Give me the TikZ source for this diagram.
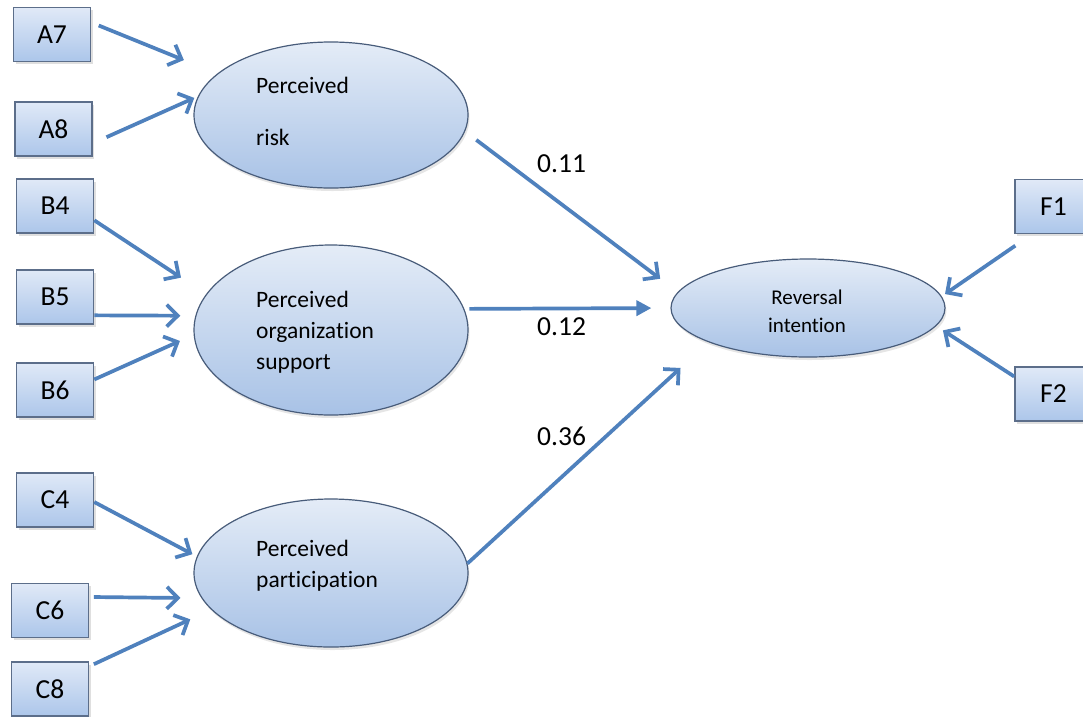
\documentclass[tikz,border=0pt]{standalone}
\usepackage{fontspec}
\setmainfont{Carlito}[Ligatures=NoCommon]
\usetikzlibrary{arrows.meta,shadows,shapes.geometric}
\definecolor{arrowblue}{RGB}{79,129,189}
\definecolor{boxtop}{RGB}{224,233,247}
\definecolor{boxbot}{RGB}{172,198,234}
\definecolor{boxline}{RGB}{92,110,138}
\definecolor{elltop}{RGB}{228,236,247}
\definecolor{ellbot}{RGB}{168,194,230}
\definecolor{ellline}{RGB}{72,92,122}
\begin{document}
\begin{tikzpicture}[x=1pt,y=-1pt,
  itembox/.style={rectangle, draw=boxline, line width=1.6pt, top color=boxtop, bottom color=boxbot,
    minimum width=77pt, minimum height=54pt, inner sep=0pt, font=\fontsize{27.5}{30}\selectfont,
    drop shadow={opacity=0.25, shadow xshift=2pt, shadow yshift=-2.5pt}},
  latent/.style={ellipse, draw=ellline, line width=1.2pt, top color=elltop, bottom color=ellbot,
    inner sep=0pt, drop shadow={opacity=0.2, shadow xshift=1.5pt, shadow yshift=-3pt}},
  ltext/.style={anchor=base west, inner sep=0pt, font=\fontsize{23.5}{28}\selectfont},
  rtext/.style={anchor=base, inner sep=0pt, font=\fontsize{21}{25}\selectfont},
  wlab/.style={anchor=base west, inner sep=0pt, font=\fontsize{27.5}{30}\selectfont},
  arr/.style={draw=arrowblue, line width=3.7pt, -{Straight Barb[length=11pt,width=22pt]}},
  arrT/.style={draw=arrowblue, line width=3.7pt, -{Triangle[length=15pt,width=15pt]}}
]
\clip (0,0) rectangle (1083,716);
\fill[white] (0,0) rectangle (1083,716);

% observed indicators
\node[itembox] (A7) at (52,34.5) {A7};
\node[itembox] (A8) at (53.5,129) {A8};
\node[itembox] (B4) at (55,206) {B4};
\node[itembox] (B5) at (55,297) {B5};
\node[itembox] (B6) at (55,390) {B6};
\node[itembox] (C4) at (55,500) {C4};
\node[itembox] (C6) at (50,610.5) {C6};
\node[itembox] (C8) at (50,689) {C8};
\node[itembox] (F1) at (1053.5,206.5) {F1};
\node[itembox] (F2) at (1053.5,394) {F2};

% latent variables
\node[latent, minimum width=274pt, minimum height=146pt] (risk) at (331,115) {};
\node[latent, minimum width=274pt, minimum height=170pt] (org) at (331,330) {};
\node[latent, minimum width=274pt, minimum height=148pt] (part) at (331,573) {};
\node[latent, minimum width=274pt, minimum height=98pt] (RI) at (808,308) {};

\node[ltext] (riskA) at (256,93) {Perceived};
\node[ltext] (riskB) at (256,145) {risk};
\node[ltext] (orgA) at (256,307) {Perceived};
\node[ltext] (orgB) at (256,338) {organization};
\node[ltext] (orgC) at (256,369) {support};
\node[ltext] (partA) at (256,556) {Perceived};
\node[ltext] (partB) at (256,587) {participation};
\node[rtext] (RIA) at (807,304) {Reversal};
\node[rtext] (RIB) at (807,332) {intention};

% path coefficients
\node[wlab] (w1) at (537,172) {0.11};
\node[wlab] (w2) at (537,335) {0.12};
\node[wlab] (w3) at (537,445) {0.36};

% measurement arrows
\draw[arr, shorten <=8pt, shorten >=36pt] (A7.17) -- (risk.160);
\draw[arr, shorten <=15pt, shorten >=4pt] (A8.-20) -- (risk.172);
\draw[arr, shorten >=30pt] (B4.-20) -- (org.164);
\draw[arr, shorten >=15pt] (B5.-25) -- (org.174);
\draw[arr, shorten >=15pt] (B6.15) -- (org.182);
\draw[arr, shorten >=5pt] (C4.-3) -- (part.173);
\draw[arr, shorten <=4.5pt, shorten >=21pt] (C6.19) -- (part.191);
\draw[arr, shorten <=5pt, shorten >=23pt] (C8.30) -- (part.197);
\draw[arr, shorten <=20pt, shorten >=4pt] (F1.232) -- (RI.5);
\draw[arr, shorten >=8pt] (F2.156) -- (RI.-8);

% structural arrows
\draw[arr, shorten <=14pt, shorten >=22pt] (risk.-7) -- (RI.173);
\draw[arrT, shorten <=5pt, shorten >=19pt] (org.9) -- (RI.180);
\draw[arr, shorten >=38pt] (part.4) -- (RI.199);
\end{tikzpicture}
\end{document}
